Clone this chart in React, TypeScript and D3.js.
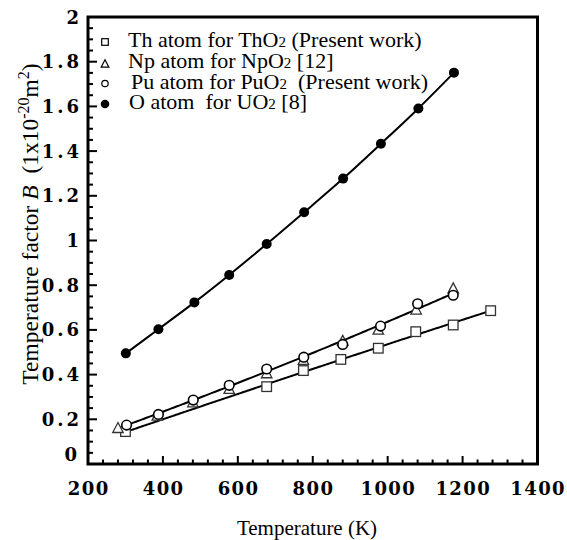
import React from "react";
import * as d3 from "d3";

// ---- data ----
const thT = [300, 677, 775, 875, 975, 1075, 1175, 1275];
const thB = [0.145, 0.346, 0.418, 0.468, 0.518, 0.592, 0.622, 0.686];
const npT = [280, 385, 480, 577, 677, 775, 880, 975, 1076, 1175];
const npB = [0.16, 0.215, 0.275, 0.335, 0.405, 0.465, 0.55, 0.6, 0.69, 0.785];
const puT = [303, 388, 481, 577, 677, 776, 880, 981, 1080, 1175];
const puB = [0.174, 0.222, 0.286, 0.352, 0.425, 0.478, 0.535, 0.617, 0.717, 0.755];
const uT = [301, 388, 484, 577, 677, 777, 881, 982, 1082, 1177];
const uB = [0.495, 0.603, 0.723, 0.846, 0.984, 1.126, 1.277, 1.433, 1.591, 1.751];

const xTicks = [200, 400, 600, 800, 1000, 1200, 1400];
const yTicks = [0, 0.2, 0.4, 0.6, 0.8, 1, 1.2, 1.4, 1.6, 1.8, 2];

const W = 567, H = 540;
const L = 88, R = 537.5, T = 17, B = 464;

function quadFit(xs: number[], ys: number[]) {
  const n = xs.length;
  const s = [0, 0, 0, 0, 0], t = [0, 0, 0];
  for (let i = 0; i < n; i++) {
    const x = xs[i] / 1000, y = ys[i];
    let p = 1;
    for (let k = 0; k < 5; k++) { s[k] += p; if (k < 3) t[k] += p * y; p *= x; }
  }
  const M = [[s[0], s[1], s[2], t[0]], [s[1], s[2], s[3], t[1]], [s[2], s[3], s[4], t[2]]];
  for (let i = 0; i < 3; i++) {
    for (let j = i + 1; j < 3; j++) {
      const f = M[j][i] / M[i][i];
      for (let k = i; k < 4; k++) M[j][k] -= f * M[i][k];
    }
  }
  const c = [0, 0, 0];
  for (let i = 2; i >= 0; i--) {
    let v = M[i][3];
    for (let k = i + 1; k < 3; k++) v -= M[i][k] * c[k];
    c[i] = v / M[i][i];
  }
  return (x: number) => { const u = x / 1000; return c[0] + c[1] * u + c[2] * u * u; };
}

export default function App() {
  const x = d3.scaleLinear().domain([200, 1400]).range([L, R]);
  const y = d3.scaleLinear().domain([0, 2]).range([B, T]);

  const line = d3.line<[number, number]>().x(d => x(d[0])).y(d => y(d[1]));
  const thF = quadFit(thT, thB);
  const puF = quadFit(puT, puB);
  const thLine = d3.range(thT[0], thT[thT.length - 1] + 1, 5).map(t => [t, thF(t)] as [number, number]);
  const puLine = d3.range(puT[0], puT[puT.length - 1] + 1, 5).map(t => [t, puF(t)] as [number, number]);
  const uLine = d3.line<number>().x((_, i) => x(uT[i])).y(d => y(d)).curve(d3.curveCatmullRom)(uB) || "";

  const xMinor = d3.range(200, 1401, 40);
  const yMinor = d3.range(0, 2.001, 0.05);

  const tickFont = { fontFamily: "DejaVu Serif", fontWeight: 700, fontSize: 18 } as const;
  const serif = "Liberation Serif";

  const tri = (cx: number, cy: number, s: number) =>
    `M${cx},${cy - s * 0.6}L${cx + s * 0.55},${cy + s * 0.45}L${cx - s * 0.55},${cy + s * 0.45}Z`;

  const legend = [
    { kind: "sq", tx: 128, base: 47, a: "Th atom for ThO", b: " (Present work)" },
    { kind: "tri", tx: 128, base: 68, a: "Np atom for NpO", b: " [12]" },
    { kind: "oc", tx: 131, base: 88.5, a: "Pu atom for PuO", b: "  (Present work)" },
    { kind: "fc", tx: 129, base: 109, a: "O atom  for UO", b: " [8]" },
  ];

  return (
    <svg width={W} height={H} style={{ display: "block", position: "absolute", left: 0, top: 0, background: "#fff" }}>
      <rect x={0} y={0} width={W} height={H} fill="#fff" />
      {xMinor.map(t => {
        const major = Math.abs(t % 200) < 1e-6;
        return <line key={"xt" + t} x1={x(t)} x2={x(t)} y1={B} y2={B - (major ? 8 : 4.5)} stroke="#000" strokeWidth={2} />;
      })}
      {yMinor.map((v, i) => {
        const major = i % 4 === 0;
        return <line key={"yt" + i} x1={L} x2={L + (major ? 9 : 5)} y1={y(v)} y2={y(v)} stroke="#000" strokeWidth={2} />;
      })}
      <rect x={L} y={T} width={R - L} height={B - T} fill="none" stroke="#000" strokeWidth={3} />

      {xTicks.map(t => (
        <text key={"xl" + t} x={x(t) + 0.7} y={495} textAnchor="middle" style={tickFont} letterSpacing={1.4}>{t}</text>
      ))}
      {yTicks.map(v => (
        <text key={"yl" + v} x={(v === 0 ? 77 : 79) + 3} y={y(v) + 6.5 - (v === 0 ? 10 : 0)} textAnchor="end" style={tickFont} letterSpacing={3}>{v}</text>
      ))}

      <text x={307} y={535} textAnchor="middle" fontFamily={serif} fontSize={21}>Temperature (K)</text>
      <text transform="translate(38,224) rotate(-90)" textAnchor="middle" fontFamily={serif} fontSize={23.5} style={{ whiteSpace: "pre" }}>
        Temperature factor <tspan fontStyle="italic">B</tspan>{"  (1x10"}
        <tspan fontSize={16} dy={-9}>-20</tspan>
        <tspan dy={9}>m</tspan>
        <tspan fontSize={16} dy={-9}>2</tspan>
        <tspan dy={9}>)</tspan>
      </text>

      <path d={line(thLine) || ""} fill="none" stroke="#000" strokeWidth={2} />
      <path d={line(puLine) || ""} fill="none" stroke="#000" strokeWidth={2} />
      <path d={uLine} fill="none" stroke="#000" strokeWidth={2} />

      {thT.map((t, i) => (
        <rect key={"th" + i} x={x(t) - 4.8} y={y(thB[i]) - 4.8} width={9.6} height={9.6} fill="#fff" stroke="#333" strokeWidth={1.3} />
      ))}
      {npT.map((t, i) => (
        <path key={"np" + i} d={tri(x(t), y(npB[i]), 9.5)} fill="#fff" stroke="#333" strokeWidth={1.3} />
      ))}
      {puT.map((t, i) => (
        <circle key={"pu" + i} cx={x(t)} cy={y(puB[i])} r={4.8} fill="#fff" stroke="#000" strokeWidth={1.6} />
      ))}
      {uT.map((t, i) => (
        <circle key={"u" + i} cx={x(t)} cy={y(uB[i])} r={5} fill="#000" />
      ))}

      {legend.map((g, i) => {
        const mx = 105, my = g.base - 5;
        return (
          <g key={"lg" + i}>
            {g.kind === "sq" && <rect x={mx - 3.3} y={my - 3.3} width={6.6} height={6.6} fill="#fff" stroke="#000" strokeWidth={1.2} />}
            {g.kind === "tri" && <path d={tri(mx, my + 1, 7)} fill="#fff" stroke="#000" strokeWidth={1.2} />}
            {g.kind === "oc" && <circle cx={mx} cy={my} r={3.2} fill="#fff" stroke="#000" strokeWidth={1.2} />}
            {g.kind === "fc" && <circle cx={mx} cy={my} r={4.3} fill="#000" />}
            <text x={g.tx} y={g.base} fontFamily={serif} fontSize={22} style={{ whiteSpace: "pre" }}>
              {g.a}<tspan fontSize={15}>2</tspan>{g.b}
            </text>
          </g>
        );
      })}
    </svg>
  );
}
